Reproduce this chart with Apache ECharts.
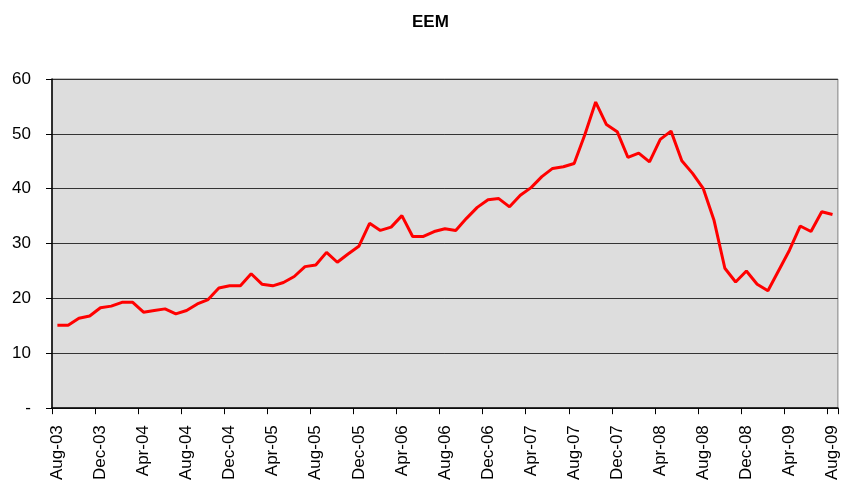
<!DOCTYPE html>
<html>
<head>
<meta charset="utf-8">
<script src="https://cdn.jsdelivr.net/npm/echarts@6/dist/echarts.min.js"></script>
<style>html,body{margin:0;padding:0;background:#fff;}#c{width:841px;height:483px;}</style>
</head>
<body>
<div id="c"></div>
<script>
const months = [
 'Aug-03','Sep-03','Oct-03','Nov-03','Dec-03',
 'Jan-04','Feb-04','Mar-04','Apr-04','May-04','Jun-04','Jul-04','Aug-04','Sep-04','Oct-04','Nov-04','Dec-04',
 'Jan-05','Feb-05','Mar-05','Apr-05','May-05','Jun-05','Jul-05','Aug-05','Sep-05','Oct-05','Nov-05','Dec-05',
 'Jan-06','Feb-06','Mar-06','Apr-06','May-06','Jun-06','Jul-06','Aug-06','Sep-06','Oct-06','Nov-06','Dec-06',
 'Jan-07','Feb-07','Mar-07','Apr-07','May-07','Jun-07','Jul-07','Aug-07','Sep-07','Oct-07','Nov-07','Dec-07',
 'Jan-08','Feb-08','Mar-08','Apr-08','May-08','Jun-08','Jul-08','Aug-08','Sep-08','Oct-08','Nov-08','Dec-08',
 'Jan-09','Feb-09','Mar-09','Apr-09','May-09','Jun-09','Jul-09','Aug-09'
];
const eem = [
 15.1,15.1,16.4,16.8,18.3,18.6,19.3,19.3,17.5,17.8,18.1,17.2,17.8,19.0,19.8,21.9,22.3,22.3,24.5,22.6,22.3,22.9,24.0,
 25.8,26.1,28.4,26.6,28.1,29.5,33.7,32.4,33.0,35.1,31.3,31.3,32.2,32.7,32.4,34.6,36.6,38.0,38.2,36.7,38.8,40.2,42.2,43.7,44.0,
 44.6,49.9,55.8,51.7,50.4,45.7,46.5,44.9,49.0,50.5,45.1,42.8,40.0,34.2,25.5,23.0,25.0,22.6,21.4,25.1,28.8,33.2,32.2,35.8,35.3
];
const yTicks = [0,10,20,30,40,50,60];
const titleText = 'EEM';

const chart = echarts.init(document.getElementById('c'), null, {renderer:'canvas'});
const font = 'Liberation Sans, Arial, sans-serif';
chart.setOption({
  animation:false,
  textStyle:{fontFamily:font},
  title:{text:titleText,left:407,top:9,textStyle:{fontFamily:font,fontSize:17,fontWeight:'bold',color:'#000'}},
  grid:{left:52,right:1,top:79,bottom:74,show:true,backgroundColor:'#DDDDDD',borderColor:'#808080',borderWidth:1},
  xAxis:{
    type:'category',data:months,boundaryGap:true,
    axisLine:{lineStyle:{color:'#000',width:1.5}},
    axisTick:{show:true,interval:3,length:6,lineStyle:{color:'#000'}},
    axisLabel:{interval:3,rotate:90,margin:17,fontSize:17,color:'#000',fontFamily:font},
    splitLine:{show:false}
  },
  yAxis:{
    type:'value',min:yTicks[0],max:yTicks[yTicks.length-1],interval:10,
    axisLine:{show:true,lineStyle:{color:'#000',width:1.5}},
    axisTick:{show:true,length:6,lineStyle:{color:'#000'}},
    axisLabel:{margin:21,fontSize:17,color:'#000',fontFamily:font,formatter:v=>v===0?'-':String(v)},
    splitLine:{show:true,lineStyle:{color:'#333',width:1}}
  },
  series:[{type:'line',data:eem,symbol:'none',lineStyle:{color:'#FF0000',width:3},itemStyle:{color:'#FF0000'}}]
});
</script>
</body>
</html>
